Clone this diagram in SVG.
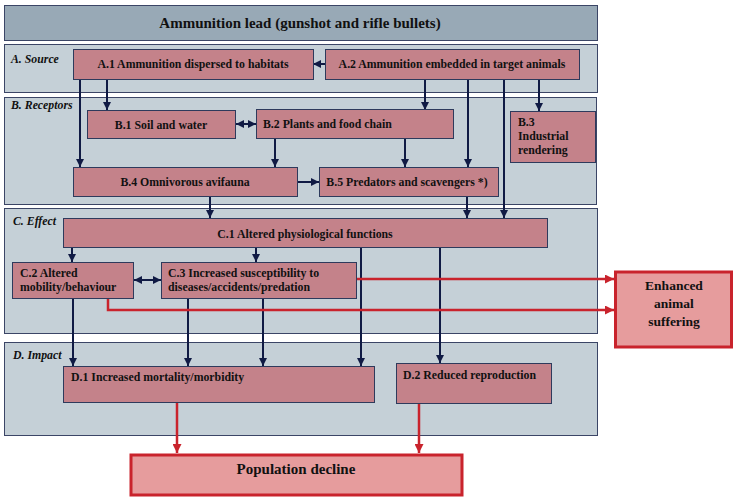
<svg xmlns="http://www.w3.org/2000/svg" width="734" height="497" viewBox="0 0 734 497">
<defs>
<style>
.sec{fill:#c5d0d7;stroke:#3b4566;stroke-width:1}
.node{fill:#c4828a;stroke:#2e3a5c;stroke-width:1}
.t{font-family:"Liberation Serif","Times New Roman",serif;font-weight:bold;font-size:11.8px;fill:#111}
.sl{font-family:"Liberation Serif","Times New Roman",serif;font-weight:bold;font-style:italic;font-size:11.8px;fill:#111}
.big{font-family:"Liberation Serif","Times New Roman",serif;font-weight:bold;fill:#111}
.c{stroke:#101a44;stroke-width:2;fill:none}
.r{stroke:#c9232c;stroke-width:2.5;fill:none}
</style>
<marker id="ah" viewBox="0 0 10 10" refX="10" refY="5" markerWidth="4" markerHeight="4" orient="auto-start-reverse"><path d="M0,0 L10,5 L0,10 z" fill="#101a44"/></marker>
<marker id="rh" viewBox="0 0 10 10" refX="10" refY="5" markerWidth="3.6" markerHeight="3.6" orient="auto"><path d="M0,0 L10,5 L0,10 z" fill="#c9232c"/></marker>
</defs>
<rect width="734" height="497" fill="#ffffff"/>
<g id="title"><rect x="4.5" y="5.5" width="593" height="35" fill="#98a9b6" stroke="#3b4566"/><text class="big" x="300" y="28" text-anchor="middle" font-size="15">Ammunition lead (gunshot and rifle bullets)</text></g>
<g id="secA"><rect class="sec" x="4.5" y="44.5" width="593" height="48"/><text class="sl" x="11" y="63">A. Source</text></g>
<g id="secB"><rect class="sec" x="4.5" y="97.5" width="592" height="107"/><text class="sl" x="11" y="109">B. Receptors</text></g>
<g id="secC"><rect class="sec" x="4.5" y="208.5" width="593" height="125"/><text class="sl" x="13" y="225">C. Effect</text></g>
<g id="secD"><rect class="sec" x="4.5" y="342.5" width="593" height="93"/><text class="sl" x="13" y="359">D. Impact</text></g>
<g id="connectors">
<path class="c" d="M325,64 H313" marker-end="url(#ah)"/>
<path class="c" d="M80,79 V167" marker-end="url(#ah)"/>
<path class="c" d="M107,79 V110" marker-end="url(#ah)"/>
<path class="c" d="M425,79 V110" marker-end="url(#ah)"/>
<path class="c" d="M468,79 V167" marker-end="url(#ah)"/>
<path class="c" d="M504,79 V218" marker-end="url(#ah)"/>
<path class="c" d="M539,79 V111" marker-end="url(#ah)"/>
<path class="c" d="M236,124 H256" marker-start="url(#ah)" marker-end="url(#ah)"/>
<path class="c" d="M275,138 V167" marker-end="url(#ah)"/>
<path class="c" d="M405,138 V167" marker-end="url(#ah)"/>
<path class="c" d="M297,182 H319" marker-end="url(#ah)"/>
<path class="c" d="M210,196 V218" marker-end="url(#ah)"/>
<path class="c" d="M467,196 V218" marker-end="url(#ah)"/>
<path class="c" d="M72,247 V262" marker-end="url(#ah)"/>
<path class="c" d="M256,247 V262" marker-end="url(#ah)"/>
<path class="c" d="M134,280 H161" marker-start="url(#ah)" marker-end="url(#ah)"/>
<path class="c" d="M361,247 V366" marker-end="url(#ah)"/>
<path class="c" d="M440,247 V363" marker-end="url(#ah)"/>
<path class="c" d="M73,298 V366" marker-end="url(#ah)"/>
<path class="c" d="M188,298 V366" marker-end="url(#ah)"/>
<path class="c" d="M263,298 V366" marker-end="url(#ah)"/>
<path class="r" d="M356,279 H614" marker-end="url(#rh)"/>
<path class="r" d="M108,298 V310 H614" marker-end="url(#rh)"/>
<path class="r" d="M177,402 V453" marker-end="url(#rh)"/>
<path class="r" d="M419,403 V453" marker-end="url(#rh)"/>
</g>
<g id="A1"><rect class="node" x="73.5" y="49.5" width="240" height="30"/><text class="t" x="193" y="68" text-anchor="middle">A.1 Ammunition dispersed to habitats</text></g>
<g id="A2"><rect class="node" x="325.5" y="49.5" width="254" height="30"/><text class="t" x="452" y="68" text-anchor="middle">A.2 Ammunition embedded in target animals</text></g>
<g id="B1"><rect class="node" x="87.5" y="110.5" width="148" height="28"/><text class="t" x="161" y="129" text-anchor="middle">B.1 Soil and water</text></g>
<g id="B2"><rect class="node" x="256.5" y="109.5" width="197" height="29"/><text class="t" x="263" y="128">B.2 Plants and food chain</text></g>
<g id="B3"><rect class="node" x="510.5" y="111.5" width="85" height="51"/><text class="t" x="518" y="126">B.3</text><text class="t" x="518" y="140">Industrial</text><text class="t" x="518" y="154">rendering</text></g>
<g id="B4"><rect class="node" x="73.5" y="167.5" width="224" height="29"/><text class="t" x="185" y="186" text-anchor="middle">B.4 Omnivorous avifauna</text></g>
<g id="B5"><rect class="node" x="319.5" y="167.5" width="179" height="29"/><text class="t" x="407" y="186" text-anchor="middle">B.5 Predators and scavengers *)</text></g>
<g id="C1"><rect class="node" x="63.5" y="218.5" width="484" height="29"/><text class="t" x="305" y="238" text-anchor="middle">C.1 Altered physiological functions</text></g>
<g id="C2"><rect class="node" x="12.5" y="262.5" width="121" height="36"/><text class="t" x="20" y="277">C.2 Altered</text><text class="t" x="20" y="291">mobility/behaviour</text></g>
<g id="C3"><rect class="node" x="161.5" y="262.5" width="195" height="36"/><text class="t" x="168" y="277">C.3 Increased susceptibility to</text><text class="t" x="168" y="291">diseases/accidents/predation</text></g>
<g id="D1"><rect class="node" x="63.5" y="366.5" width="311" height="36"/><text class="t" x="71" y="381">D.1 Increased mortality/morbidity</text></g>
<g id="D2"><rect class="node" x="396.5" y="363.5" width="155" height="40"/><text class="t" x="403" y="379">D.2 Reduced reproduction</text></g>
<g id="E"><rect x="615.5" y="272" width="116" height="75" fill="#e69c9d" stroke="#c9232c" stroke-width="3"/><text class="big" x="674" y="290" text-anchor="middle" font-size="13.5">Enhanced</text><text class="big" x="674" y="308" text-anchor="middle" font-size="13.5">animal</text><text class="big" x="674" y="326" text-anchor="middle" font-size="13.5">suffering</text></g>
<g id="P"><rect x="131" y="455" width="331" height="40" fill="#e69c9d" stroke="#c9232c" stroke-width="3"/><text class="big" x="296" y="474" text-anchor="middle" font-size="15">Population decline</text></g>
</svg>
